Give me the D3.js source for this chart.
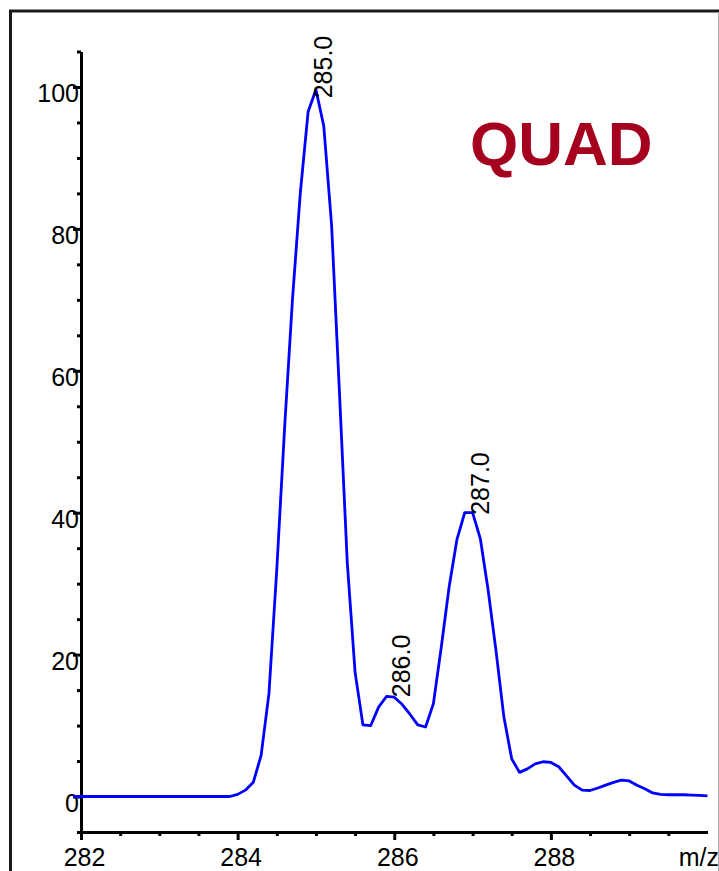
<!DOCTYPE html>
<html>
<head>
<meta charset="utf-8">
<script src="https://cdn.jsdelivr.net/npm/d3@7"></script>
<style>
    body { margin: 0; background: #fff; }
    svg { display: block; }
    text { font-family: "Liberation Sans", Arial, sans-serif; }
</style>
</head>
<body>
<div id="chart"></div>
<script>
// m/z grid of the profile
const mz = [
    281.9, 282.0, 282.1, 282.2, 282.3, 282.4, 282.5, 282.6, 282.7, 282.8, 282.9,
    283.0, 283.1, 283.2, 283.3, 283.4, 283.5, 283.6, 283.7, 283.8, 283.9,
    284.0, 284.1, 284.2, 284.3, 284.4, 284.5, 284.6, 284.7, 284.8, 284.9,
    285.0, 285.1, 285.2, 285.3, 285.4, 285.5, 285.6, 285.7, 285.8, 285.9,
    286.0, 286.1, 286.2, 286.3, 286.4, 286.5, 286.6, 286.7, 286.8, 286.9,
    287.0, 287.1, 287.2, 287.3, 287.4, 287.5, 287.6, 287.7, 287.8, 287.9,
    288.0, 288.1, 288.2, 288.3, 288.4, 288.5, 288.6, 288.7, 288.8, 288.9,
    289.0, 289.1, 289.2, 289.3, 289.4, 289.5, 289.6, 289.7, 289.8, 289.9,
    290.0
];

// relative intensity (%)
const intensity = [
    0, 0, 0, 0, 0, 0, 0, 0, 0, 0, 0,
    0, 0, 0, 0, 0, 0, 0, 0, 0, 0,
    0.3, 0.9, 2, 5.8, 14.5, 32, 52, 70, 85, 96.5,
    99.6, 94.5, 80.5, 57, 33, 17.5, 10.1, 10, 12.6, 14.1,
    14, 13, 11.6, 10.1, 9.8, 13.1, 21, 29.5, 36.2, 40,
    40, 36.3, 29, 20.5, 11.2, 5.3, 3.4, 3.9, 4.6, 4.9,
    4.8, 4.2, 2.9, 1.6, 0.9, 0.85, 1.2, 1.6, 2, 2.3,
    2.2, 1.6, 1.1, 0.5, 0.3, 0.25, 0.25, 0.25, 0.2, 0.15,
    0.1
];

// peak annotations
const peakMz = [285.0, 286.0, 287.0];
const peakLabels = ["285.0", "286.0", "287.0"];
const peakLabelAt = [98.4, 14, 39.7];

const xMajorTicks = [282, 284, 286, 288];
const xMinorTicks = [282.5, 283, 283.5, 284.5, 285, 285.5, 286.5, 287, 287.5, 288.5, 289, 289.5];
const yMajorTicks = [0, 20, 40, 60, 80, 100];
const yMinorTicks = [-5, 5, 10, 15, 25, 30, 35, 45, 50, 55, 65, 70, 75, 85, 90, 95, 105];

const width = 719, height = 871;

const svg = d3.select("#chart").append("svg")
    .attr("width", width)
    .attr("height", height);

// frame round the plot
svg.append("path")
    .attr("d", "M10.5,880 V11 H719")
    .attr("fill", "none")
    .attr("stroke", "#1a1a1a")
    .attr("stroke-width", 3);
svg.append("line")
    .attr("x1", 718.5).attr("x2", 718.5)
    .attr("y1", 12).attr("y2", height)
    .attr("stroke", "#aaa")
    .attr("stroke-width", 1);

const x = d3.scaleLinear().domain([282, 290]).range([81, 707.5]);
const y = d3.scaleLinear().domain([-5, 105]).range([832, 51.5]);

// y axis
const yAxis = svg.append("g").attr("transform", `translate(${x(282)},0)`);
yAxis.call(d3.axisLeft(y).tickValues(yMajorTicks).tickSize(8).tickSizeOuter(0));
yAxis.append("g").call(d3.axisLeft(y).tickValues(yMinorTicks).tickSize(4).tickSizeOuter(0).tickFormat(""));
yAxis.selectAll(".domain").attr("stroke-width", 3);
yAxis.selectAll(".tick line").attr("stroke-width", 3);
yAxis.selectAll(".tick text")
    .attr("x", -2)
    .attr("dy", 15)
    .attr("font-size", 25)
    .attr("font-family", "Liberation Sans, Arial, sans-serif")
    .attr("fill", "#000");

// x axis
const xAxis = svg.append("g").attr("transform", `translate(0,${y(-5)})`);
xAxis.call(d3.axisBottom(x).tickValues(xMajorTicks).tickSize(8).tickSizeOuter(0));
xAxis.append("g").call(d3.axisBottom(x).tickValues(xMinorTicks).tickSize(4).tickSizeOuter(0).tickFormat(""));
xAxis.select(".domain").attr("d", `M${x(282) - 4},0.5H${x(290)}`);
xAxis.selectAll(".domain").attr("stroke-width", 3);
xAxis.selectAll(".tick line").attr("stroke-width", 3);
xAxis.selectAll(".tick text")
    .attr("x", 3)
    .attr("y", 34)
    .attr("dy", 0)
    .attr("font-size", 25)
    .attr("font-family", "Liberation Sans, Arial, sans-serif")
    .attr("fill", "#000");

svg.append("text")
    .attr("x", 719)
    .attr("y", y(-5) + 34)
    .attr("text-anchor", "end")
    .attr("font-size", 25)
    .text("m/z");

// profile trace
const line = d3.line()
    .x((d, i) => x(mz[i]))
    .y(d => y(d));

svg.append("path")
    .datum(intensity)
    .attr("fill", "none")
    .attr("stroke", "#0000ff")
    .attr("stroke-width", 2.8)
    .attr("stroke-linejoin", "round")
    .attr("d", line);

// peak labels, written upward from the apex
svg.append("g").selectAll("text")
    .data(peakMz)
    .join("text")
    .attr("transform", (d, i) => `translate(${x(d) + 16},${y(peakLabelAt[i])}) rotate(-90)`)
    .attr("font-size", 25)
    .attr("fill", "#000")
    .text((d, i) => peakLabels[i]);

svg.append("text")
    .attr("x", 470)
    .attr("y", 165)
    .attr("font-size", 62)
    .attr("font-weight", "bold")
    .attr("fill", "#a6001f")
    .text("QUAD");
</script>
</body>
</html>
